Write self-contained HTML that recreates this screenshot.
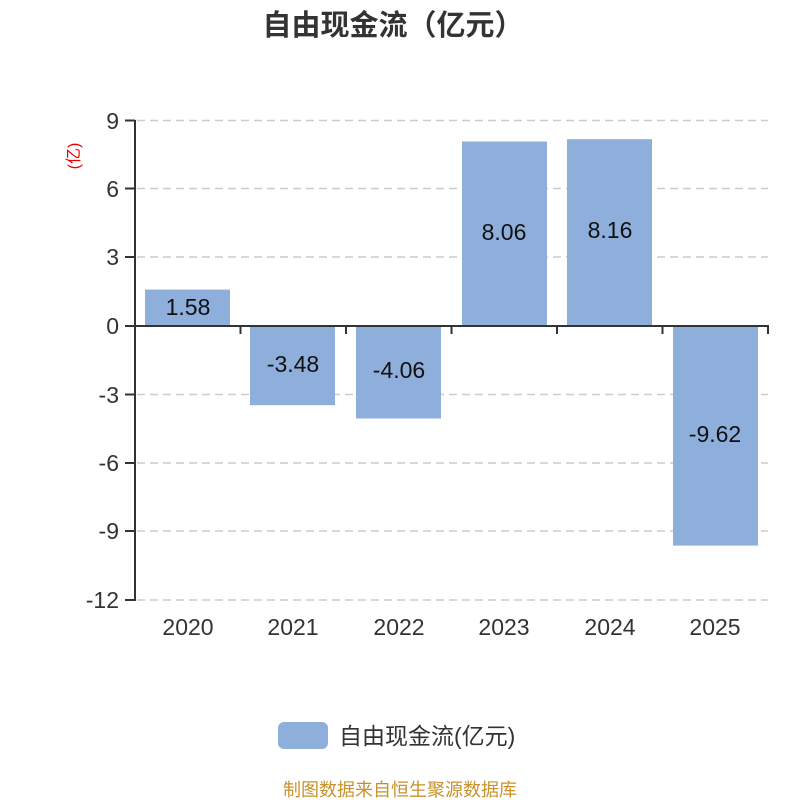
<!DOCTYPE html>
<html><head><meta charset="utf-8"><style>
body{margin:0;background:#fff;}
svg{display:block;font-family:"Liberation Sans","Noto Sans CJK SC",sans-serif;}
</style></head><body>
<svg width="800" height="800" viewBox="0 0 800 800" xmlns="http://www.w3.org/2000/svg">
<text x="393" y="35" text-anchor="middle" font-size="29" font-weight="bold" fill="#333">自由现金流（亿元）</text>
<text transform="translate(79,156) rotate(-90)" text-anchor="middle" font-size="16" fill="#e00">(亿)</text>
<g stroke="#ccc" stroke-width="1.5" stroke-dasharray="8,5">
<line x1="137" y1="120.5" x2="768" y2="120.5"/>
<line x1="137" y1="188.5" x2="768" y2="188.5"/>
<line x1="137" y1="257" x2="768" y2="257"/>
<line x1="137" y1="394.5" x2="768" y2="394.5"/>
<line x1="137" y1="463" x2="768" y2="463"/>
<line x1="137" y1="531" x2="768" y2="531"/>
<line x1="137" y1="600" x2="768" y2="600"/>
</g>
<g fill="#8eaedb">
<rect x="145" y="289.6" width="85" height="36"/>
<rect x="250" y="325.7" width="85" height="79.5"/>
<rect x="356" y="325.7" width="85" height="92.8"/>
<rect x="462" y="141.5" width="85" height="184.2"/>
<rect x="567" y="139.2" width="85" height="186.5"/>
<rect x="673" y="325.7" width="85" height="219.9"/>
</g>
<g stroke="#333" stroke-width="2" fill="none">
<line x1="135" y1="120" x2="135" y2="601"/>
<line x1="134" y1="326" x2="769" y2="326"/>
<line x1="125" y1="120.5" x2="135" y2="120.5"/>
<line x1="125" y1="188.5" x2="135" y2="188.5"/>
<line x1="125" y1="257" x2="135" y2="257"/>
<line x1="125" y1="326" x2="135" y2="326"/>
<line x1="125" y1="394.5" x2="135" y2="394.5"/>
<line x1="125" y1="463" x2="135" y2="463"/>
<line x1="125" y1="531" x2="135" y2="531"/>
<line x1="125" y1="600" x2="135" y2="600"/>
<line x1="240.5" y1="326" x2="240.5" y2="334"/>
<line x1="346" y1="326" x2="346" y2="334"/>
<line x1="451.5" y1="326" x2="451.5" y2="334"/>
<line x1="557" y1="326" x2="557" y2="334"/>
<line x1="662.5" y1="326" x2="662.5" y2="334"/>
<line x1="768" y1="326" x2="768" y2="334"/>
</g>
<g font-size="23" fill="#333" text-anchor="end">
<text x="119" y="129">9</text>
<text x="119" y="197">6</text>
<text x="119" y="265">3</text>
<text x="119" y="334">0</text>
<text x="119" y="403">-3</text>
<text x="119" y="471">-6</text>
<text x="119" y="539">-9</text>
<text x="119" y="608">-12</text>
</g>
<g font-size="23" fill="#333" text-anchor="middle">
<text x="188" y="635">2020</text>
<text x="293" y="635">2021</text>
<text x="399" y="635">2022</text>
<text x="504" y="635">2023</text>
<text x="610" y="635">2024</text>
<text x="715" y="635">2025</text>
</g>
<g font-size="23" fill="#111" text-anchor="middle">
<text x="188" y="315">1.58</text>
<text x="293" y="372">-3.48</text>
<text x="399" y="378">-4.06</text>
<text x="504" y="240">8.06</text>
<text x="610" y="238">8.16</text>
<text x="715" y="442">-9.62</text>
</g>
<rect x="278" y="722" width="50" height="27" rx="6" fill="#8eaedb"/>
<text x="339" y="744" font-size="23" fill="#333">自由现金流(亿元)</text>
<text x="400" y="796" text-anchor="middle" font-size="18" fill="#c8922a">制图数据来自恒生聚源数据库</text>
</svg>
</body></html>
